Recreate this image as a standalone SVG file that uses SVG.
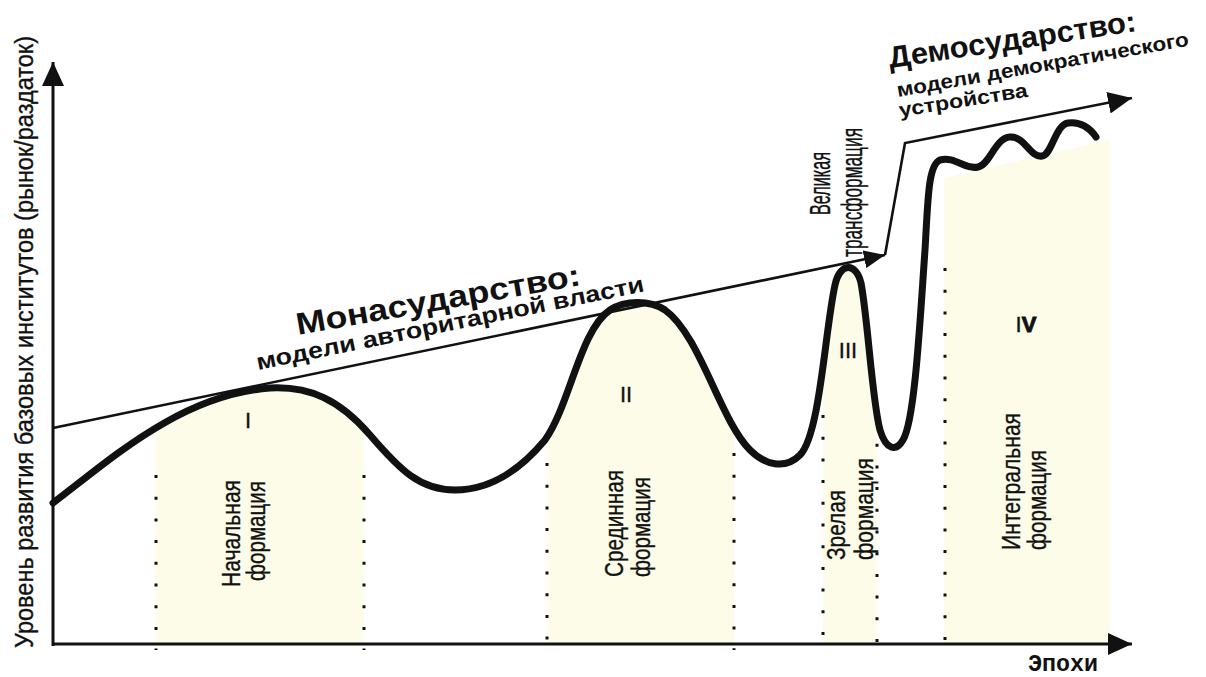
<svg xmlns="http://www.w3.org/2000/svg" width="1206" height="677" viewBox="0 0 1206 677">
<style>
.bg{fill:#ffffff}
.fillf{fill:#FCFCE9}
.curve{fill:none;stroke:#111;stroke-width:7;stroke-linecap:round;stroke-linejoin:round}
.axis{fill:none;stroke:#111;stroke-width:3}
.trend{fill:none;stroke:#111;stroke-width:2.6;stroke-linejoin:miter}
.dots{fill:none;stroke:#111;stroke-width:3;stroke-dasharray:3 18.7}
.nar{font-family:'Liberation Sans Narrow','Liberation Sans',Arial,sans-serif;fill:#111;stroke:#111;stroke-width:0.35}
.bld{font-family:'Liberation Sans',Arial,sans-serif;font-weight:bold;fill:#111}
.mono{font-family:'Liberation Mono','Courier New',monospace;font-weight:bold;fill:#111}
</style>
<defs>
<marker id="headBig" viewBox="0 0 24 22" markerWidth="24" markerHeight="22" refX="24" refY="11" orient="auto" markerUnits="userSpaceOnUse"><path d="M0,0 L24,11 L0,22 Z" fill="#111"/></marker>
<marker id="headSmall" viewBox="0 0 21 18" markerWidth="21" markerHeight="18" refX="21" refY="9" orient="auto" markerUnits="userSpaceOnUse"><path d="M0,0 L21,9 L0,18 Z" fill="#111"/></marker>
<path id="curvePath" d="M53,503 C110,460 180,395 270,388 C310,386 340,400 370,435 C400,470 420,490 455,490 C490,490 520,470 545,440 C570,405 580,330 610,310 C625,300 650,300 665,310 C700,335 720,420 750,450 C765,465 785,470 800,455 C820,435 825,330 835,285 C840,262 856,262 861,283 C868,320 872,400 880,430 C886,450 896,452 903,440 C915,420 920,320 925,250 C928,200 928,165 940,160 C955,156 965,170 978,167 C990,165 995,138 1010,137 C1025,136 1030,158 1042,156 C1052,155 1055,125 1068,123 C1080,121 1090,128 1096,137"/>
<clipPath id="underCurve"><path d="M53,503 C110,460 180,395 270,388 C310,386 340,400 370,435 C400,470 420,490 455,490 C490,490 520,470 545,440 C570,405 580,330 610,310 C625,300 650,300 665,310 C700,335 720,420 750,450 C765,465 785,470 800,455 C820,435 825,330 835,285 C840,262 856,262 861,283 C868,320 872,400 880,430 C886,450 896,452 903,440 C915,420 920,320 925,250 C928,200 928,165 940,160 L1096,160 L1096,644 L53,644 Z"/></clipPath>
</defs>
<rect class="bg" x="0" y="0" width="1206" height="677"/>

<g id="formation-1">
<rect class="fillf" x="155" y="300" width="209" height="344" clip-path="url(#underCurve)"/>
<line class="dots" x1="156" y1="475" x2="156" y2="650"/>
<line class="dots" x1="364" y1="475" x2="364" y2="650"/>
<text class="nar" x="248" y="428" font-size="22" text-anchor="middle">I</text>
<text class="nar" font-size="25" transform="translate(240,587) rotate(-90)" textLength="107" lengthAdjust="spacingAndGlyphs">Начальная</text>
<text class="nar" font-size="25" transform="translate(265,581) rotate(-90)" textLength="100" lengthAdjust="spacingAndGlyphs">формация</text>
</g>

<g id="formation-2">
<rect class="fillf" x="547" y="290" width="187" height="354" clip-path="url(#underCurve)"/>
<line class="dots" x1="547" y1="463" x2="547" y2="650"/>
<line class="dots" x1="734" y1="453" x2="734" y2="650"/>
<text class="nar" x="626" y="402" font-size="22" text-anchor="middle">II</text>
<text class="nar" font-size="25" transform="translate(623,577) rotate(-90)" textLength="107" lengthAdjust="spacingAndGlyphs">Срединная</text>
<text class="nar" font-size="25" transform="translate(650,577) rotate(-90)" textLength="100" lengthAdjust="spacingAndGlyphs">формация</text>
</g>

<g id="formation-3">
<rect class="fillf" x="823" y="250" width="54" height="394" clip-path="url(#underCurve)"/>
<line class="dots" x1="823" y1="415" x2="823" y2="650"/>
<line class="dots" x1="877" y1="422" x2="877" y2="650"/>
<text class="nar" x="848" y="358" font-size="22" text-anchor="middle">III</text>
<text class="nar" font-size="25" transform="translate(845,560) rotate(-90)" textLength="70" lengthAdjust="spacingAndGlyphs">Зрелая</text>
<text class="nar" font-size="25" transform="translate(873,560) rotate(-90)" textLength="102" lengthAdjust="spacingAndGlyphs">формация</text>
</g>

<g id="formation-4">
<polygon class="fillf" points="944,178 1110,140 1110,644 944,644"/>
<line class="dots" x1="945" y1="268" x2="945" y2="650"/>
<text class="nar" x="1026" y="332" font-size="22" text-anchor="middle">I<tspan font-weight="bold" stroke-width="1">V</tspan></text>
<text class="nar" font-size="25" transform="translate(1020,550) rotate(-90)" textLength="137" lengthAdjust="spacingAndGlyphs">Интегральная</text>
<text class="nar" font-size="25" transform="translate(1046,550) rotate(-90)" textLength="100" lengthAdjust="spacingAndGlyphs">формация</text>
</g>

<g id="axes">
<line class="axis" x1="53" y1="644" x2="1132" y2="644" marker-end="url(#headBig)"/>
<line class="axis" x1="53" y1="646" x2="53" y2="62" marker-end="url(#headBig)"/>
<text class="nar" font-size="25" transform="translate(33,648) rotate(-90)" textLength="612" lengthAdjust="spacingAndGlyphs">Уровень развития базовых институтов (рынок/раздаток)</text>
<text class="mono" x="1028" y="671" font-size="23" textLength="70" lengthAdjust="spacingAndGlyphs">Эпохи</text>
</g>

<g id="curve">
<use href="#curvePath" class="curve"/>
</g>

<g id="connectors">
<path class="trend" d="M53,428 L885,255" marker-end="url(#headSmall)"/>
<path class="trend" d="M885,255 L905,143 L1132,98" marker-end="url(#headBig)"/>
</g>

<g id="label-monarchy">
<text class="bld" font-size="31" transform="translate(298,335) rotate(-10)" textLength="288" lengthAdjust="spacingAndGlyphs">Монасударство:</text>
<text class="bld" font-size="23" transform="translate(258,370) rotate(-11.5)" textLength="395" lengthAdjust="spacingAndGlyphs">модели авторитарной власти</text>
</g>

<g id="label-democracy">
<text class="bld" font-size="30" transform="translate(890,68) rotate(-8.5)" textLength="250" lengthAdjust="spacingAndGlyphs">Демосударство:</text>
<text class="bld" font-size="20" transform="translate(898,97) rotate(-10)" textLength="296" lengthAdjust="spacingAndGlyphs">модели демократического</text>
<text class="bld" font-size="20" transform="translate(900,117) rotate(-9)" textLength="130" lengthAdjust="spacingAndGlyphs">устройства</text>
</g>

<g id="label-transformation">
<text class="nar" font-size="30" transform="translate(830,215) rotate(-90)" textLength="63" lengthAdjust="spacingAndGlyphs">Великая</text>
<text class="nar" font-size="30" transform="translate(862,257) rotate(-90)" textLength="129" lengthAdjust="spacingAndGlyphs">трансформация</text>
</g>
</svg>
